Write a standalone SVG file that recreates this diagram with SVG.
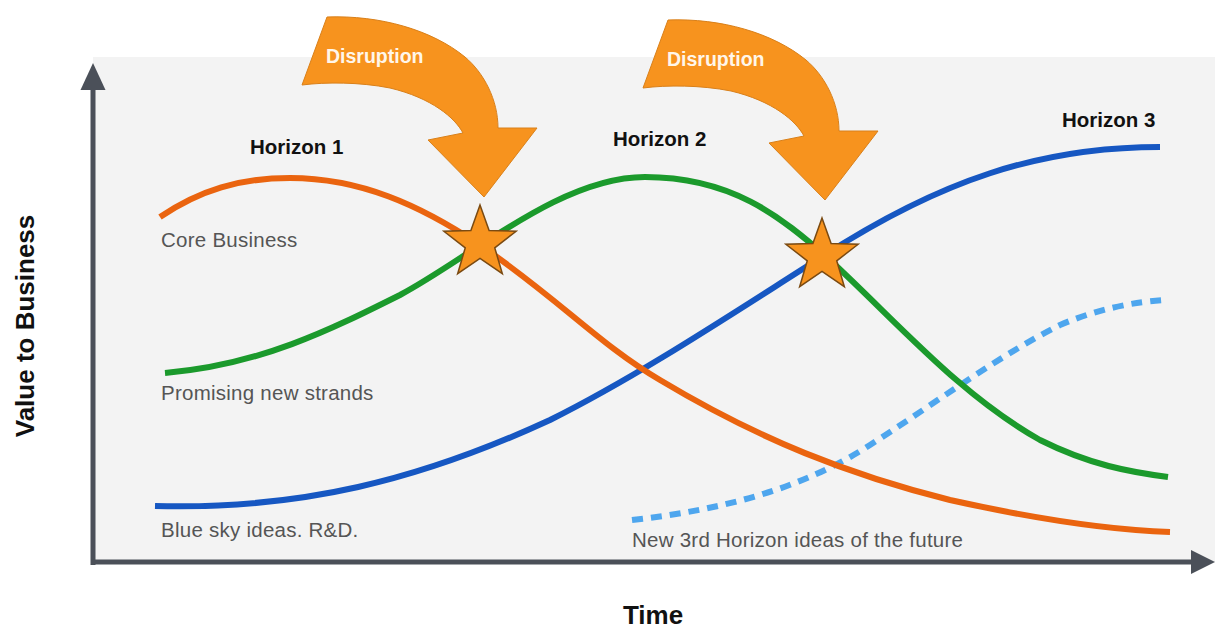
<svg xmlns="http://www.w3.org/2000/svg" width="1215" height="630" viewBox="0 0 1215 630">
  <defs>
    <style>
      .lbl { font-family: "Liberation Sans", Arial, sans-serif; font-size: 20.5px; letter-spacing: 0.25px; fill: #555555; }
      .hz { font-family: "Liberation Sans", Arial, sans-serif; font-size: 20.5px; font-weight: bold; fill: #111111; }
      .dis { font-family: "Liberation Sans", Arial, sans-serif; font-size: 19.5px; font-weight: bold; fill: #fff6ea; }
      .ax { font-family: "Liberation Sans", Arial, sans-serif; font-weight: bold; fill: #111111; }
      .curve { fill: none; stroke-width: 6; stroke-linecap: butt; }
      .star { fill: #f7931e; stroke: #7a4a12; stroke-width: 1.5; stroke-linejoin: miter; }
      .arrow { fill: #f7931e; stroke: #d9801a; stroke-width: 1; }
      .axis { stroke: #4b5059; stroke-width: 5; fill: none; }
    </style>
    <path id="starShape" d="M0,-38 L9.11,-12.54 L36.14,-11.74 L14.74,4.79 L22.34,30.74 L0,15.5 L-22.34,30.74 L-14.74,4.79 L-36.14,-11.74 L-9.11,-12.54 Z"/>
    <path id="disArrow" d="M327,17 C380,15 432,30 465,57 C484,73 498,100 498,128 L537,128 L484,197 L428,140 L463,133 C455,118 432,98 390,88 C360,82 325,82 302,85 Z"/>
  </defs>

  <rect x="0" y="0" width="1215" height="630" fill="#ffffff"/>
  <rect id="panel" x="93" y="57" width="1122" height="505" fill="#f3f3f3"/>

  <g id="axes">
    <line class="axis" x1="93" y1="565" x2="93" y2="86"/>
    <polygon points="93,63 80.5,90 105.5,90" fill="#4b5059"/>
    <line class="axis" x1="91" y1="562" x2="1194" y2="562"/>
    <polygon points="1215,562 1191,550 1191,574" fill="#4b5059"/>
    <text class="ax" font-size="26" text-anchor="middle" transform="translate(34,326) rotate(-90)">Value to Business</text>
    <text class="ax" font-size="26" x="653" y="624" text-anchor="middle">Time</text>
  </g>

  <g id="connectors">
    <path id="curve-blue" class="curve" stroke="#1657c2" d="M155,506 C300,510 420,480 550,420 C640,375 730,315 820,258 C940,180 1040,147 1160,147"/>
    <path id="curve-dashed" class="curve" stroke="#4ea6ee" stroke-width="5" stroke-dasharray="11 8" d="M632,520 C720,510 800,490 870,445 C940,400 1000,355 1060,325 C1100,308 1135,302 1165,300"/>
    <path id="curve-green" class="curve" stroke="#1b9a2c" d="M165,373 C260,365 330,330 400,295 C470,258 560,177 645,177 C730,177 780,215 830,260 C900,325 960,395 1040,440 C1090,465 1130,472 1168,477"/>
    <path id="curve-orange" class="curve" stroke="#ea640f" d="M160,217 C200,190 240,178 290,178 C360,178 420,205 480,245 C560,300 600,345 660,380 C760,440 850,475 950,500 C1040,520 1110,530 1170,532"/>
  </g>

  <g id="disruption-1">
    <use href="#disArrow" class="arrow"/>
    <text class="dis" x="326" y="63">Disruption</text>
  </g>
  <g id="disruption-2">
    <use href="#disArrow" class="arrow" transform="translate(341,3)"/>
    <text class="dis" x="667" y="66">Disruption</text>
  </g>

  <g id="star-1"><use href="#starShape" class="star" transform="translate(480,243)"/></g>
  <g id="star-2"><use href="#starShape" class="star" transform="translate(822,256)"/></g>

  <g id="horizon-1"><text class="hz" x="250" y="154">Horizon 1</text></g>
  <g id="horizon-2"><text class="hz" x="613" y="146">Horizon 2</text></g>
  <g id="horizon-3"><text class="hz" x="1062" y="127">Horizon 3</text></g>

  <g id="label-core"><text class="lbl" x="161" y="247">Core Business</text></g>
  <g id="label-promising"><text class="lbl" x="161" y="400">Promising new strands</text></g>
  <g id="label-bluesky"><text class="lbl" x="161" y="537">Blue sky ideas. R&amp;D.</text></g>
  <g id="label-new3rd"><text class="lbl" x="632" y="547">New 3rd Horizon ideas of the future</text></g>
</svg>
